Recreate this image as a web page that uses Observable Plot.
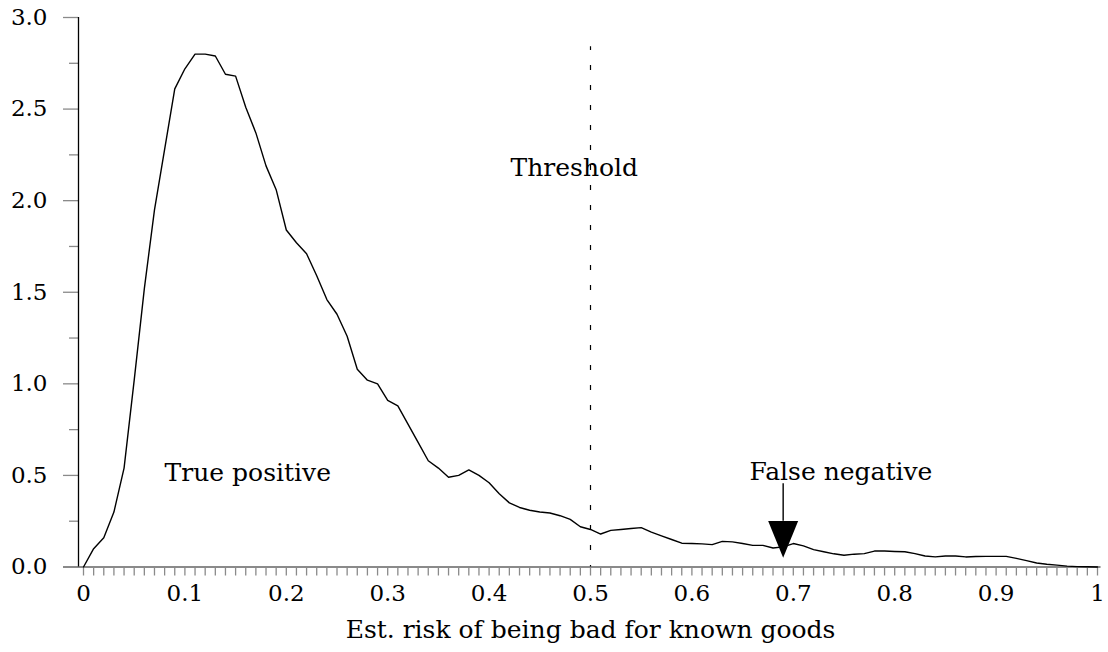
<!DOCTYPE html>
<html>
<head>
<meta charset="utf-8">
<script src="https://cdn.jsdelivr.net/npm/d3@7"></script>
<script src="https://cdn.jsdelivr.net/npm/@observablehq/plot@0.6"></script>
<style>
  html, body { margin: 0; padding: 0; background: #fff; }
  svg { overflow: visible; }
  svg, svg text { font-family: "DejaVu Serif", serif !important; }
</style>
</head>
<body>
<div id="chart"></div>
<script>
// Estimated risk values (x) and density (y)
const riskX = [0.00,0.01,0.02,0.03,0.04,0.05,0.06,0.07,0.08,0.09,
  0.10,0.11,0.12,0.13,0.14,0.15,0.16,0.17,0.18,0.19,
  0.20,0.21,0.22,0.23,0.24,0.25,0.26,0.27,0.28,0.29,
  0.30,0.31,0.32,0.33,0.34,0.35,0.36,0.37,0.38,0.39,
  0.40,0.41,0.42,0.43,0.44,0.45,0.46,0.47,0.48,0.49,
  0.50,0.51,0.52,0.53,0.54,0.55,0.56,0.57,0.58,0.59,
  0.60,0.61,0.62,0.63,0.64,0.65,0.66,0.67,0.68,0.69,
  0.70,0.71,0.72,0.73,0.74,0.75,0.76,0.77,0.78,0.79,
  0.80,0.81,0.82,0.83,0.84,0.85,0.86,0.87,0.88,0.89,
  0.90,0.91,0.92,0.93,0.94,0.95,0.96,0.97,0.98,0.99,1.00];
const densityY = [0,0.10,0.16,0.30,0.54,1.02,1.52,1.95,2.28,2.61,
  2.72,2.80,2.80,2.79,2.69,2.68,2.51,2.37,2.19,2.06,
  1.84,1.77,1.71,1.59,1.46,1.38,1.26,1.08,1.02,1.00,
  0.91,0.88,0.78,0.68,0.58,0.54,0.49,0.50,0.53,0.50,
  0.46,0.40,0.35,0.325,0.31,0.30,0.295,0.28,0.26,0.22,
  0.205,0.18,0.20,0.205,0.21,0.215,0.19,0.17,0.15,0.13,
  0.128,0.126,0.122,0.14,0.137,0.128,0.118,0.118,0.104,0.11,
  0.128,0.115,0.095,0.083,0.072,0.064,0.07,0.073,0.087,0.087,
  0.085,0.083,0.073,0.06,0.055,0.06,0.06,0.055,0.057,0.058,
  0.058,0.058,0.047,0.035,0.022,0.015,0.01,0.005,0.002,0.001,0];

const xMajorTicks = [0,0.1,0.2,0.3,0.4,0.5,0.6,0.7,0.8,0.9,1];
const xTickLabels = ["0","0.1","0.2","0.3","0.4","0.5","0.6","0.7","0.8","0.9","1"];
const xMinorTicks = riskX;
const yMajorTicks = [0,0.5,1.0,1.5,2.0,2.5,3.0];
const yMinorTicks = [0.25,0.75,1.25,1.75,2.25,2.75];

const threshold = 0.5;
const thresholdTop = 2.84;
const xLabel = "Est. risk of being bad for known goods";

const annotations = [
  {x: 0.484, y: 2.18, text: "Threshold"},
  {x: 0.162, y: 0.515, text: "True positive"},
  {x: 0.747, y: 0.521, text: "False negative"}
];
const arrowX = 0.69, arrowTop = 0.455, arrowTip = 0.05;

const curve = riskX.map((x, i) => ({x, y: densityY[i]}));

const FONT = "DejaVu Serif, serif";
const GRAY = "#8a8a8a";

// downward triangle symbol with its tip at the anchor point
const downTriangle = {
  draw(context, size) {
    const r = Math.sqrt(size / Math.PI);
    context.moveTo(0, 0);
    context.lineTo(-r, -2.45 * r);
    context.lineTo(r, -2.45 * r);
    context.closePath();
  }
};

const chart = Plot.plot({
  width: 1108,
  height: 652,
  marginLeft: 83,
  marginRight: 11,
  marginTop: 17,
  marginBottom: 85.5,
  style: {fontFamily: FONT, background: "#fff", color: "#000"},
  x: {domain: [0, 1]},
  y: {domain: [0, 3]},
  marks: [
    Plot.ruleY([0], {x1: -0.0197, x2: 1.0035, stroke: GRAY, strokeWidth: 2}),
    Plot.axisX({ticks: xMinorTicks, tickSize: 9, stroke: GRAY, strokeWidth: 1.3, text: null, label: null}),
    Plot.axisX({ticks: xMajorTicks, tickSize: 0, tickPadding: 18, fontSize: 23,
      tickFormat: d => xTickLabels[xMajorTicks.indexOf(d)], label: null}),
    Plot.axisY({ticks: yMajorTicks, tickSize: 15, dx: -5, tickPadding: 16, fontSize: 23,
      stroke: GRAY, strokeWidth: 1.3, tickFormat: d3.format(".1f"), label: null}),
    Plot.axisY({ticks: yMinorTicks, tickSize: 9, dx: -5, stroke: GRAY, strokeWidth: 1.3, text: null, label: null}),
    Plot.ruleX([0], {y1: 0, y2: 3, dx: -5, stroke: "#000", strokeWidth: 1.3}),
    Plot.ruleX([threshold], {y1: 0, y2: thresholdTop, stroke: "#000", strokeWidth: 1.2,
      strokeDasharray: "5,15", strokeDashoffset: 3.5}),
    Plot.line(curve, {x: "x", y: "y", stroke: "#000", strokeWidth: 1.4}),
    Plot.text(annotations, {x: "x", y: "y", text: "text", fontSize: 25, fontFamily: FONT, fill: "#000", lineAnchor: "middle"}),
    Plot.ruleX([arrowX], {y1: arrowTop, y2: arrowTip + 0.2, stroke: "#000", strokeWidth: 1.4}),
    Plot.dot([{x: arrowX, y: arrowTip}], {x: "x", y: "y", r: 15, symbol: downTriangle, fill: "#000", stroke: "none"}),
    Plot.text([xLabel], {x: [0.5], frameAnchor: "bottom", dy: 62.5, fontSize: 25, fontFamily: FONT, fill: "#000", lineAnchor: "middle"})
  ]
});

document.getElementById("chart").appendChild(chart);
</script>
</body>
</html>
